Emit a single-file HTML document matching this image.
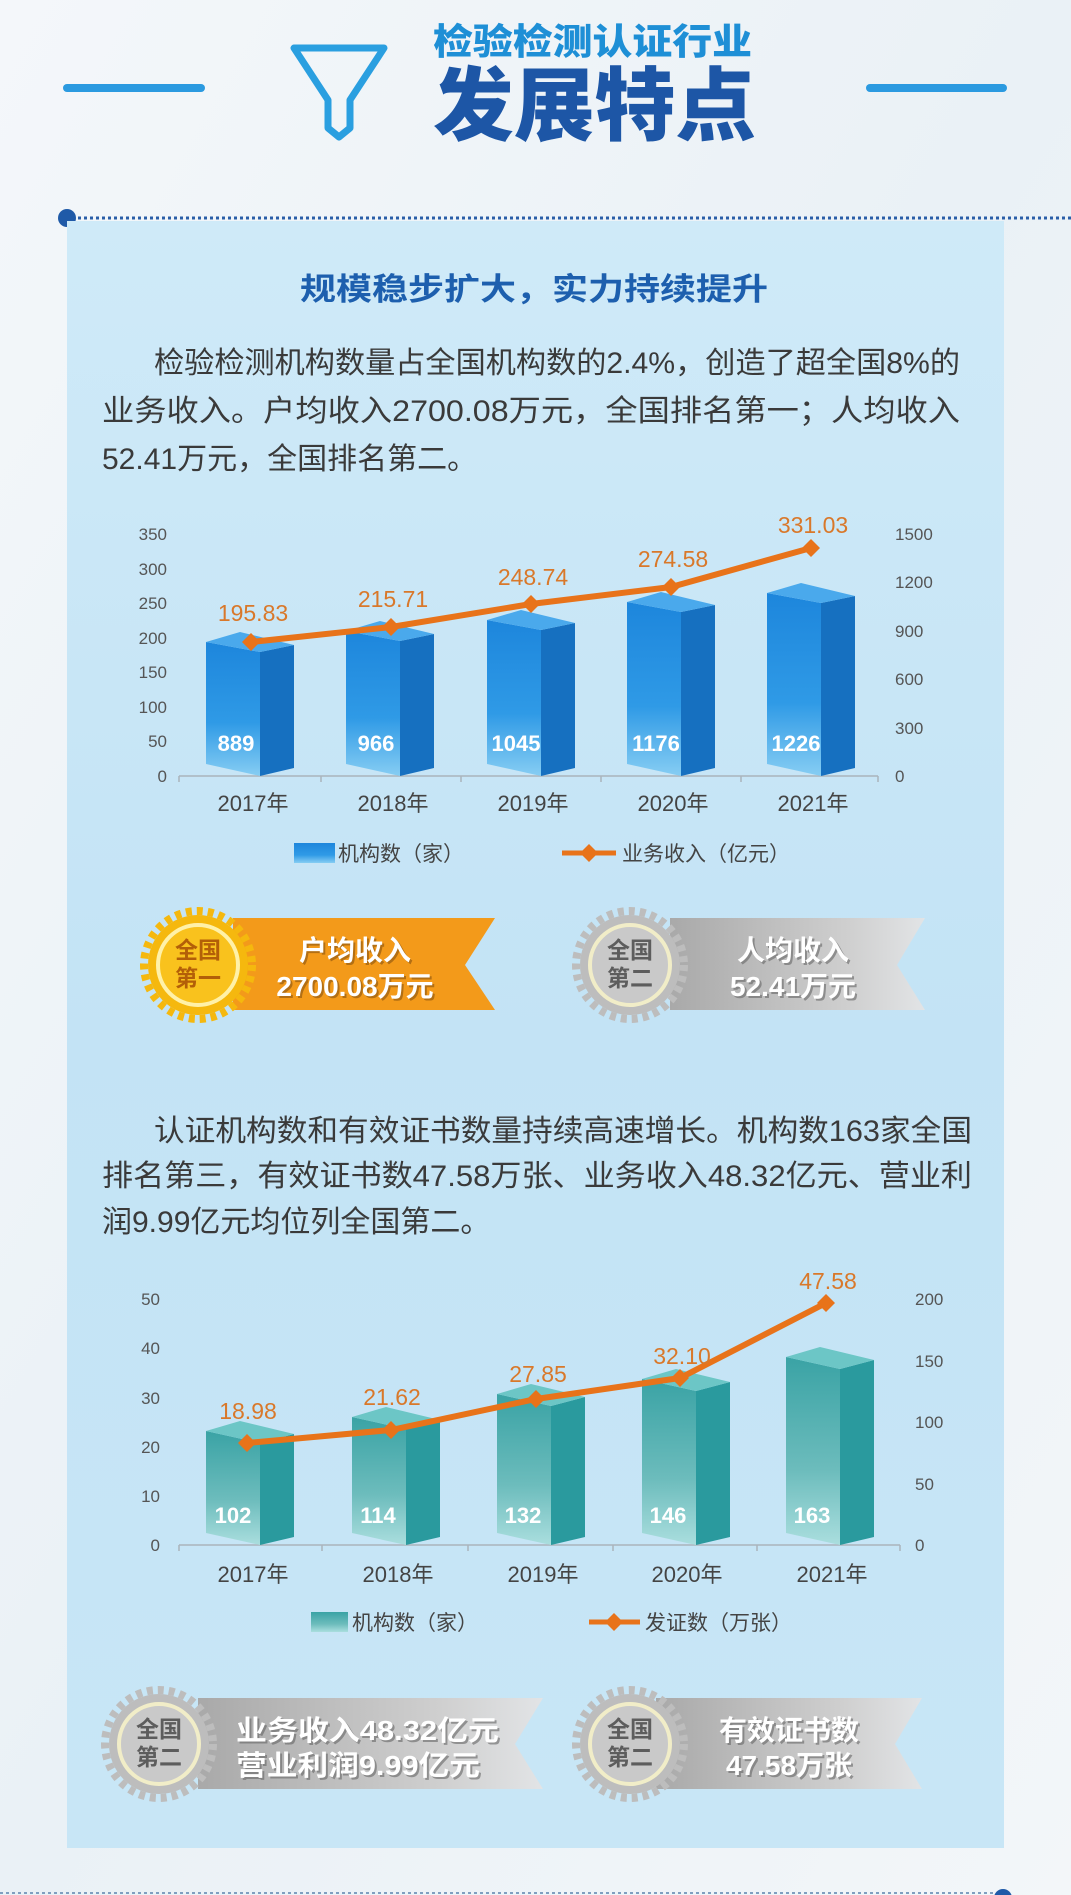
<!DOCTYPE html>
<html><head><meta charset="utf-8"><style>
html,body{margin:0;padding:0;background:#eef3f7}
svg{display:block}
text{font-family:"Liberation Sans","Noto Sans CJK SC",sans-serif}
.cj{font-family:"Noto Sans CJK SC","Liberation Sans",sans-serif}
</style></head><body>
<svg width="1071" height="1895" viewBox="0 0 1071 1895" xmlns="http://www.w3.org/2000/svg">
<defs>
<linearGradient id="bg" x1="0" y1="0" x2="1" y2="1"><stop offset="0" stop-color="#f4f7fa"/><stop offset=".5" stop-color="#eaf1f6"/><stop offset="1" stop-color="#f3f6f9"/></linearGradient>
<linearGradient id="pn" x1="0" y1="0" x2="0" y2="1"><stop offset="0" stop-color="#cfeaf8"/><stop offset=".5" stop-color="#c3e3f5"/><stop offset="1" stop-color="#c8e6f6"/></linearGradient>
<linearGradient id="bf" x1="0" y1="0" x2="0" y2="1"><stop offset="0" stop-color="#1d86dc"/><stop offset=".6" stop-color="#2f9ae6"/><stop offset="1" stop-color="#86cdf3"/></linearGradient>
<linearGradient id="tf" x1="0" y1="0" x2="0" y2="1"><stop offset="0" stop-color="#3aa3a5"/><stop offset=".6" stop-color="#6cbcbc"/><stop offset="1" stop-color="#aadede"/></linearGradient>
<linearGradient id="gr" x1="0" y1="0" x2="1" y2="0"><stop offset="0" stop-color="#a9a9a9"/><stop offset=".7" stop-color="#cfcfcf"/><stop offset="1" stop-color="#e2e4e6"/></linearGradient>
</defs>
<rect width="1071" height="1895" fill="url(#bg)"/>
<!-- header -->
<rect x="63" y="84" width="142" height="8" rx="4" fill="#2b9ae0"/>
<rect x="866" y="84" width="141" height="8" rx="4" fill="#2b9ae0"/>
<path d="M294,48 L384,48 L350,100 L350,128 L339,137 L328,128 L328,100 Z" fill="none" stroke="#2a9fe0" stroke-width="7" stroke-linejoin="round"/>
<text class="cj" x="433" y="54" font-size="36" font-weight="900" fill="#1e8fd6" textLength="319" lengthAdjust="spacingAndGlyphs">检验检测认证行业</text>
<text class="cj" x="433" y="134" font-size="80" font-weight="900" fill="#1d56a6" textLength="323" lengthAdjust="spacingAndGlyphs">发展特点</text>
<line x1="72" y1="218" x2="1071" y2="218" stroke="#2a5ea8" stroke-width="3" stroke-dasharray="3 3"/>
<circle cx="67" cy="218" r="9" fill="#1f5aa8"/>
<!-- panel -->
<rect x="67" y="221" width="937" height="1627" fill="url(#pn)"/>
<text class="cj" x="300" y="300" font-size="31" font-weight="700" fill="#1d5fae" textLength="468" lengthAdjust="spacingAndGlyphs">规模稳步扩大，实力持续提升</text>
<g font-size="30" fill="#3a3a3a">
<text x="154" y="373" textLength="806" lengthAdjust="spacingAndGlyphs">检验检测机构数量占全国机构数的2.4%，创造了超全国8%的</text>
<text x="102" y="421" textLength="858" lengthAdjust="spacingAndGlyphs">业务收入。户均收入2700.08万元，全国排名第一；人均收入</text>
<text x="102" y="469">52.41万元，全国排名第二。</text>
<text x="154" y="1141" textLength="818" lengthAdjust="spacingAndGlyphs">认证机构数和有效证书数量持续高速增长。机构数163家全国</text>
<text x="102" y="1186" textLength="870" lengthAdjust="spacingAndGlyphs">排名第三，有效证书数47.58万张、业务收入48.32亿元、营业利</text>
<text x="102" y="1232">润9.99亿元均位列全国第二。</text>
</g>
<!-- chart 1 axes -->
<g font-size="17" fill="#555" text-anchor="end">
<text x="167" y="782">0</text><text x="167" y="747">50</text><text x="167" y="713">100</text><text x="167" y="678">150</text><text x="167" y="644">200</text><text x="167" y="609">250</text><text x="167" y="575">300</text><text x="167" y="540">350</text>
</g>
<g font-size="17" fill="#555">
<text x="895" y="782">0</text><text x="895" y="734">300</text><text x="895" y="685">600</text><text x="895" y="637">900</text><text x="895" y="588">1200</text><text x="895" y="540">1500</text>
</g>
<path d="M179,776 H878 M179,776 v6 M321,776 v6 M461,776 v6 M601,776 v6 M741,776 v6 M878,776 v6" stroke="#aab4bc" stroke-width="1.5"/>
<g font-size="22" fill="#444" text-anchor="middle">
<text x="253" y="811">2017年</text><text x="393" y="811">2018年</text><text x="533" y="811">2019年</text><text x="673" y="811">2020年</text><text x="813" y="811">2021年</text>
</g>
<!-- bars 1 -->
<g>
<g><path d="M206,642 L260,652 L260,776 L206,764 Z" fill="url(#bf)"/><path d="M260,652 L294,645 L294,768 L260,776 Z" fill="#1670c0"/><path d="M206,642 L240,632 L294,645 L260,652 Z" fill="#4aa9ec"/></g>
<g><path d="M346,631 L400,641 L400,776 L346,764 Z" fill="url(#bf)"/><path d="M400,641 L434,634 L434,768 L400,776 Z" fill="#1670c0"/><path d="M346,631 L380,621 L434,634 L400,641 Z" fill="#4aa9ec"/></g>
<g><path d="M487,620 L541,630 L541,776 L487,764 Z" fill="url(#bf)"/><path d="M541,630 L575,623 L575,768 L541,776 Z" fill="#1670c0"/><path d="M487,620 L521,610 L575,623 L541,630 Z" fill="#4aa9ec"/></g>
<g><path d="M627,602 L681,612 L681,776 L627,764 Z" fill="url(#bf)"/><path d="M681,612 L715,605 L715,768 L681,776 Z" fill="#1670c0"/><path d="M627,602 L661,592 L715,605 L681,612 Z" fill="#4aa9ec"/></g>
<g><path d="M767,593 L821,603 L821,776 L767,764 Z" fill="url(#bf)"/><path d="M821,603 L855,596 L855,768 L821,776 Z" fill="#1670c0"/><path d="M767,593 L801,583 L855,596 L821,603 Z" fill="#4aa9ec"/></g>
</g>
<g font-size="22" font-weight="700" fill="#fff" text-anchor="middle">
<text x="236" y="751">889</text><text x="376" y="751">966</text><text x="516" y="751">1045</text><text x="656" y="751">1176</text><text x="796" y="751">1226</text>
</g>
<polyline points="251,642 391,627 531,604 671,587 811,548" fill="none" stroke="#e8731a" stroke-width="6"/>
<g fill="#e8731a">
<path d="M251,633 l9,9 l-9,9 l-9,-9z"/><path d="M391,618 l9,9 l-9,9 l-9,-9z"/><path d="M531,595 l9,9 l-9,9 l-9,-9z"/><path d="M671,578 l9,9 l-9,9 l-9,-9z"/><path d="M811,539 l9,9 l-9,9 l-9,-9z"/>
</g>
<g font-size="23" fill="#d9782a" text-anchor="middle">
<text x="253" y="621">195.83</text><text x="393" y="607">215.71</text><text x="533" y="585">248.74</text><text x="673" y="567">274.58</text><text x="813" y="533">331.03</text>
</g>
<rect x="294" y="843" width="41" height="20" fill="url(#bf)"/>
<text x="338" y="861" font-size="21" fill="#444">机构数（家）</text>
<line x1="562" y1="853" x2="616" y2="853" stroke="#e8731a" stroke-width="5"/>
<path d="M589,844 l9,9 l-9,9 l-9,-9z" fill="#e8731a"/>
<text x="622" y="861" font-size="21" fill="#444">业务收入（亿元）</text>
<!-- badges row 1 -->
<path d="M233,918 L495,918 L465,965 L495,1010 L233,1010 Z" fill="#f39a1a"/>
<circle cx="198" cy="965" r="50" fill="#f5b80e"/>
<circle cx="198" cy="965" r="54" fill="none" stroke="#f5b80e" stroke-width="8" stroke-dasharray="6 5"/>
<circle cx="198" cy="965" r="40" fill="#f9c21d" stroke="#fff1a8" stroke-width="4"/>
<g class="cj" font-size="23" font-weight="700" fill="#b35f08" text-anchor="middle"><text x="198" y="958">全国</text><text x="198" y="986">第一</text></g>
<g class="cj" font-size="28" font-weight="700" text-anchor="middle">
<text x="357" y="962" fill="#8a5410" opacity=".6">户均收入</text><text x="355" y="960" fill="#fff">户均收入</text>
<text x="357" y="998" fill="#8a5410" opacity=".6">2700.08万元</text><text x="355" y="996" fill="#fff">2700.08万元</text>
</g>
<path d="M670,918 L925,918 L897,965 L925,1010 L670,1010 Z" fill="url(#gr)"/>
<circle cx="630" cy="965" r="50" fill="#bdbdbd"/>
<circle cx="630" cy="965" r="54" fill="none" stroke="#bdbdbd" stroke-width="8" stroke-dasharray="6 5"/>
<circle cx="630" cy="965" r="40" fill="#c9c9c9" stroke="#f1edc8" stroke-width="4"/>
<g class="cj" font-size="23" font-weight="700" fill="#5d5d5d" text-anchor="middle"><text x="630" y="958">全国</text><text x="630" y="986">第二</text></g>
<g class="cj" font-size="28" font-weight="700" text-anchor="middle">
<text x="795" y="962" fill="#666" opacity=".6">人均收入</text><text x="793" y="960" fill="#fff">人均收入</text>
<text x="795" y="998" fill="#666" opacity=".6">52.41万元</text><text x="793" y="996" fill="#fff">52.41万元</text>
</g>
<!-- chart 2 axes -->
<g font-size="17" fill="#555" text-anchor="end">
<text x="160" y="1551">0</text><text x="160" y="1502">10</text><text x="160" y="1453">20</text><text x="160" y="1404">30</text><text x="160" y="1354">40</text><text x="160" y="1305">50</text>
</g>
<g font-size="17" fill="#555">
<text x="915" y="1551">0</text><text x="915" y="1490">50</text><text x="915" y="1428">100</text><text x="915" y="1367">150</text><text x="915" y="1305">200</text>
</g>
<path d="M179,1545 H900 M179,1545 v6 M322,1545 v6 M468,1545 v6 M613,1545 v6 M757,1545 v6 M900,1545 v6" stroke="#aab4bc" stroke-width="1.5"/>
<g font-size="22" fill="#444" text-anchor="middle">
<text x="253" y="1582">2017年</text><text x="398" y="1582">2018年</text><text x="543" y="1582">2019年</text><text x="687" y="1582">2020年</text><text x="832" y="1582">2021年</text>
</g>
<g>
<g><path d="M206,1431 L260,1443 L260,1545 L206,1533 Z" fill="url(#tf)"/><path d="M260,1443 L294,1434 L294,1537 L260,1545 Z" fill="#2a9a9e"/><path d="M206,1431 L240,1421 L294,1434 L260,1443 Z" fill="#6cc6c6"/></g>
<g><path d="M352,1417 L406,1429 L406,1545 L352,1533 Z" fill="url(#tf)"/><path d="M406,1429 L440,1420 L440,1537 L406,1545 Z" fill="#2a9a9e"/><path d="M352,1417 L386,1407 L440,1420 L406,1429 Z" fill="#6cc6c6"/></g>
<g><path d="M497,1394 L551,1406 L551,1545 L497,1533 Z" fill="url(#tf)"/><path d="M551,1406 L585,1397 L585,1537 L551,1545 Z" fill="#2a9a9e"/><path d="M497,1394 L531,1384 L585,1397 L551,1406 Z" fill="#6cc6c6"/></g>
<g><path d="M642,1379 L696,1391 L696,1545 L642,1533 Z" fill="url(#tf)"/><path d="M696,1391 L730,1382 L730,1537 L696,1545 Z" fill="#2a9a9e"/><path d="M642,1379 L676,1369 L730,1382 L696,1391 Z" fill="#6cc6c6"/></g>
<g><path d="M786,1357 L840,1369 L840,1545 L786,1533 Z" fill="url(#tf)"/><path d="M840,1369 L874,1360 L874,1537 L840,1545 Z" fill="#2a9a9e"/><path d="M786,1357 L820,1347 L874,1360 L840,1369 Z" fill="#6cc6c6"/></g>
</g>
<g font-size="22" font-weight="700" fill="#fff" text-anchor="middle">
<text x="233" y="1523">102</text><text x="378" y="1523">114</text><text x="523" y="1523">132</text><text x="668" y="1523">146</text><text x="812" y="1523">163</text>
</g>
<polyline points="247,1443 391,1430 536,1399 680,1378 826,1303" fill="none" stroke="#e8731a" stroke-width="6"/>
<g fill="#e8731a">
<path d="M247,1434 l9,9 l-9,9 l-9,-9z"/><path d="M391,1421 l9,9 l-9,9 l-9,-9z"/><path d="M536,1390 l9,9 l-9,9 l-9,-9z"/><path d="M680,1369 l9,9 l-9,9 l-9,-9z"/><path d="M826,1294 l9,9 l-9,9 l-9,-9z"/>
</g>
<g font-size="23" fill="#d9782a" text-anchor="middle">
<text x="248" y="1419">18.98</text><text x="392" y="1405">21.62</text><text x="538" y="1382">27.85</text><text x="682" y="1364">32.10</text><text x="828" y="1289">47.58</text>
</g>
<rect x="311" y="1612" width="37" height="20" fill="url(#tf)"/>
<text x="352" y="1630" font-size="21" fill="#444">机构数（家）</text>
<line x1="589" y1="1622" x2="640" y2="1622" stroke="#e8731a" stroke-width="5"/>
<path d="M614,1613 l9,9 l-9,9 l-9,-9z" fill="#e8731a"/>
<text x="645" y="1630" font-size="21" fill="#444">发证数（万张）</text>
<!-- badges row 2 -->
<path d="M198,1698 L543,1698 L515,1744 L543,1789 L198,1789 Z" fill="url(#gr)"/>
<circle cx="159" cy="1744" r="50" fill="#bdbdbd"/>
<circle cx="159" cy="1744" r="54" fill="none" stroke="#bdbdbd" stroke-width="8" stroke-dasharray="6 5"/>
<circle cx="159" cy="1744" r="40" fill="#c9c9c9" stroke="#f1edc8" stroke-width="4"/>
<g class="cj" font-size="23" font-weight="700" fill="#5d5d5d" text-anchor="middle"><text x="159" y="1737">全国</text><text x="159" y="1765">第二</text></g>
<g class="cj" font-size="28" font-weight="700">
<text x="238" y="1742" fill="#666" opacity=".6" textLength="263" lengthAdjust="spacingAndGlyphs">业务收入48.32亿元</text><text x="236" y="1740" fill="#fff" textLength="263" lengthAdjust="spacingAndGlyphs">业务收入48.32亿元</text>
<text x="238" y="1777" fill="#666" opacity=".6" textLength="244" lengthAdjust="spacingAndGlyphs">营业利润9.99亿元</text><text x="236" y="1775" fill="#fff" textLength="244" lengthAdjust="spacingAndGlyphs">营业利润9.99亿元</text>
</g>
<path d="M656,1698 L922,1698 L895,1744 L922,1789 L656,1789 Z" fill="url(#gr)"/>
<circle cx="630" cy="1744" r="50" fill="#bdbdbd"/>
<circle cx="630" cy="1744" r="54" fill="none" stroke="#bdbdbd" stroke-width="8" stroke-dasharray="6 5"/>
<circle cx="630" cy="1744" r="40" fill="#c9c9c9" stroke="#f1edc8" stroke-width="4"/>
<g class="cj" font-size="23" font-weight="700" fill="#5d5d5d" text-anchor="middle"><text x="630" y="1737">全国</text><text x="630" y="1765">第二</text></g>
<g class="cj" font-size="28" font-weight="700" text-anchor="middle">
<text x="791" y="1742" fill="#666" opacity=".6">有效证书数</text><text x="789" y="1740" fill="#fff">有效证书数</text>
<text x="791" y="1777" fill="#666" opacity=".6">47.58万张</text><text x="789" y="1775" fill="#fff">47.58万张</text>
</g>
<line x1="0" y1="1893" x2="995" y2="1893" stroke="#7f9fc0" stroke-width="2" stroke-dasharray="3 3"/>
<circle cx="1003" cy="1898" r="9" fill="#1f5aa8"/>
</svg>
</body></html>
